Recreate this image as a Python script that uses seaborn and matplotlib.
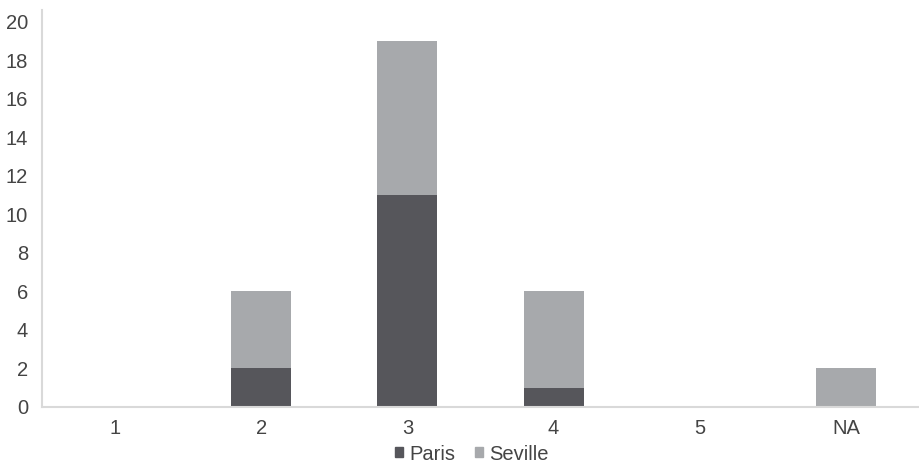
import pandas as pd
import seaborn as sns
import matplotlib.pyplot as plt
from matplotlib.patches import Patch

categories = ["1", "2", "3", "4", "5", "NA"]
paris = [0, 2, 11, 1, 0, 0]
seville = [0, 4, 8, 5, 0, 2]

df = pd.DataFrame({"cat": categories, "Paris": paris, "Seville": seville})
df["total"] = df["Paris"] + df["Seville"]

dark = "#56565b"
light = "#a7a9ac"
text_col = "#444444"
spine_col = "#d9d9d9"

sns.set_style("white")
plt.rcParams["font.family"] = ["Liberation Sans", "DejaVu Sans"]

fig = plt.figure(figsize=(9.19, 4.66), dpi=100)
ax = fig.add_axes([42 / 919, 1 - 407 / 466, 1 - 42 / 919, (407 - 10) / 466])

# Seville stacked on top of Paris: draw total first, then Paris over it
sns.barplot(data=df, x="cat", y="total", color=light, width=0.41, ax=ax,
            saturation=1, linewidth=0)
sns.barplot(data=df, x="cat", y="Paris", color=dark, width=0.41, ax=ax,
            saturation=1, linewidth=0)

ax.set_xlim(-0.5, 5.5)
ax.set_ylim(0, 20.6)
ax.set_yticks(range(0, 21, 2))
ax.set_xlabel("")
ax.set_ylabel("")

for side in ["top", "right"]:
    ax.spines[side].set_visible(False)
for side in ["left", "bottom"]:
    ax.spines[side].set_color(spine_col)
    ax.spines[side].set_linewidth(1.5)

ax.tick_params(axis="y", length=4, width=1, color=spine_col, labelsize=14.5, labelcolor=text_col, pad=6)
ax.tick_params(axis="x", length=0, labelsize=14.5, labelcolor=text_col, pad=9)

handles = [Patch(color=dark, label="Paris"), Patch(color=light, label="Seville")]
fig.legend(handles=handles, loc="center", bbox_to_anchor=(472 / 919, 1 - 454 / 466), ncol=2,
           frameon=False, fontsize=14.5, labelcolor=text_col, handlelength=0.4, handleheight=0.4,
           handletextpad=0.3, columnspacing=1.0)

plt.savefig("out.png", dpi=100)
